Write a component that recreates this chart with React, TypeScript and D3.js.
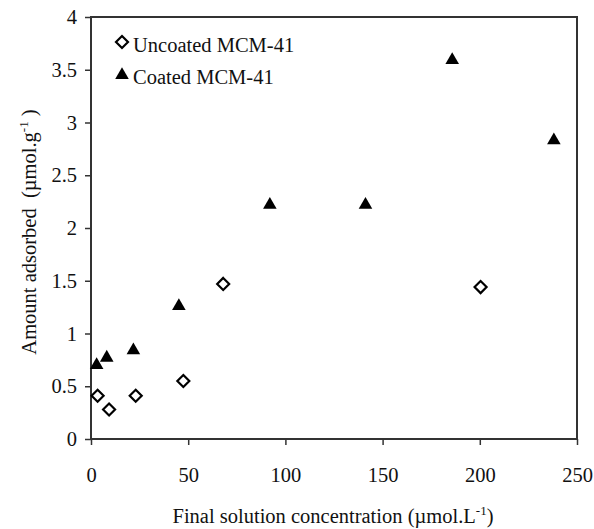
import React, { useEffect, useRef } from "react";
import * as d3 from "d3";

// data
const uncoatedX = [3.4, 9.3, 23.0, 47.5, 68.0, 200.4];
const uncoatedY = [0.41, 0.28, 0.41, 0.55, 1.47, 1.44];
const coatedX = [2.9, 8.1, 21.8, 45.2, 92.0, 141.2, 185.8, 238.1];
const coatedY = [0.71, 0.78, 0.85, 1.27, 2.23, 2.23, 3.6, 2.84];
const xTicks = [0, 50, 100, 150, 200, 250];
const yTicks = [0, 0.5, 1, 1.5, 2, 2.5, 3, 3.5, 4];
const seriesNames = ["Uncoated MCM-41", "Coated MCM-41"];

const W = 594;
const H = 529;
const plot = { left: 91, right: 577, top: 17, bottom: 439 };
const font = "'Liberation Serif', 'Times New Roman', serif";
const fs = 20.5;

export default function App() {
  const ref = useRef<SVGSVGElement>(null);

  useEffect(() => {
    const svg = d3.select(ref.current);
    svg.selectAll("*").remove();

    const x = d3.scaleLinear().domain([0, 250]).range([plot.left, plot.right]);
    const y = d3.scaleLinear().domain([0, 4]).range([plot.bottom, plot.top]);

    const axisColor = "#333";

    // frame
    svg
      .append("rect")
      .attr("x", x(0))
      .attr("y", y(4))
      .attr("width", x(250) - x(0))
      .attr("height", y(0) - y(4))
      .attr("fill", "none")
      .attr("stroke", axisColor)
      .attr("stroke-width", 2);

    // x axis
    const gx = svg
      .append("g")
      .attr("transform", `translate(0,${y(0)})`)
      .call(d3.axisBottom(x).tickValues(xTicks).tickSize(6).tickPadding(22).tickFormat(d3.format("d")));
    gx.select(".domain").remove();
    gx.selectAll("line").attr("stroke", axisColor).attr("stroke-width", 1.5);
    gx.selectAll("text").attr("font-family", font).attr("font-size", fs).attr("fill", "#111");

    // y axis
    const gy = svg
      .append("g")
      .attr("transform", `translate(${x(0)},0)`)
      .call(d3.axisLeft(y).tickValues(yTicks).tickSize(6).tickPadding(8).tickFormat((d) => String(d)));
    gy.select(".domain").remove();
    gy.selectAll("line").attr("stroke", axisColor).attr("stroke-width", 1.5);
    gy.selectAll("text").attr("font-family", font).attr("font-size", fs).attr("fill", "#111");

    // axis titles
    const xt = svg
      .append("text")
      .attr("x", 333)
      .attr("y", 523)
      .attr("text-anchor", "middle")
      .attr("font-family", font)
      .attr("font-size", fs)
      .attr("fill", "#111");
    xt.append("tspan").text("Final solution concentration (µmol.L");
    xt.append("tspan").attr("dy", -8).attr("font-size", 13).text("-1");
    xt.append("tspan").attr("dy", 8).text(")");

    const yt = svg
      .append("text")
      .attr("transform", `translate(36,232) rotate(-90)`)
      .attr("text-anchor", "middle")
      .attr("font-family", font)
      .attr("font-size", fs)
      .attr("fill", "#111")
      .attr("xml:space", "preserve")
      .style("white-space", "pre");
    yt.append("tspan").text("Amount adsorbed  (µmol.g");
    yt.append("tspan").attr("dy", -8).attr("font-size", 13).text("-1");
    yt.append("tspan").attr("dy", 8).text(" )");

    const tri = d3.symbol().type(d3.symbolTriangle).size(80);
    const diamond = "M0,-6L6,0L0,6L-6,0Z";

    const uncoated = uncoatedX.map((v, i) => [v, uncoatedY[i]]);
    const coated = coatedX.map((v, i) => [v, coatedY[i]]);

    svg
      .append("g")
      .selectAll("path")
      .data(uncoated)
      .join("path")
      .attr("d", diamond)
      .attr("transform", (d) => `translate(${x(d[0])},${y(d[1])})`)
      .attr("fill", "white")
      .attr("stroke", "#000")
      .attr("stroke-width", 2.2);

    svg
      .append("g")
      .selectAll("path")
      .data(coated)
      .join("path")
      .attr("d", tri)
      .attr("transform", (d) => `translate(${x(d[0])},${y(d[1]) + 1})`)
      .attr("fill", "#000");

    // legend
    const legend = svg.append("g");
    legend
      .append("path")
      .attr("d", diamond)
      .attr("transform", "translate(122,42)")
      .attr("fill", "white")
      .attr("stroke", "#000")
      .attr("stroke-width", 2.2);
    legend
      .append("path")
      .attr("d", tri)
      .attr("transform", "translate(122,75)")
      .attr("fill", "#000");
    legend
      .selectAll("text")
      .data(seriesNames)
      .join("text")
      .attr("x", 133)
      .attr("y", (d, i) => 52 + i * 32)
      .attr("font-family", font)
      .attr("font-size", fs)
      .attr("fill", "#111")
      .text((d) => d);
  }, []);

  return (
    <svg
      ref={ref}
      width={W}
      height={H}
      style={{ position: "absolute", left: 0, top: 0, background: "white" }}
    />
  );
}
